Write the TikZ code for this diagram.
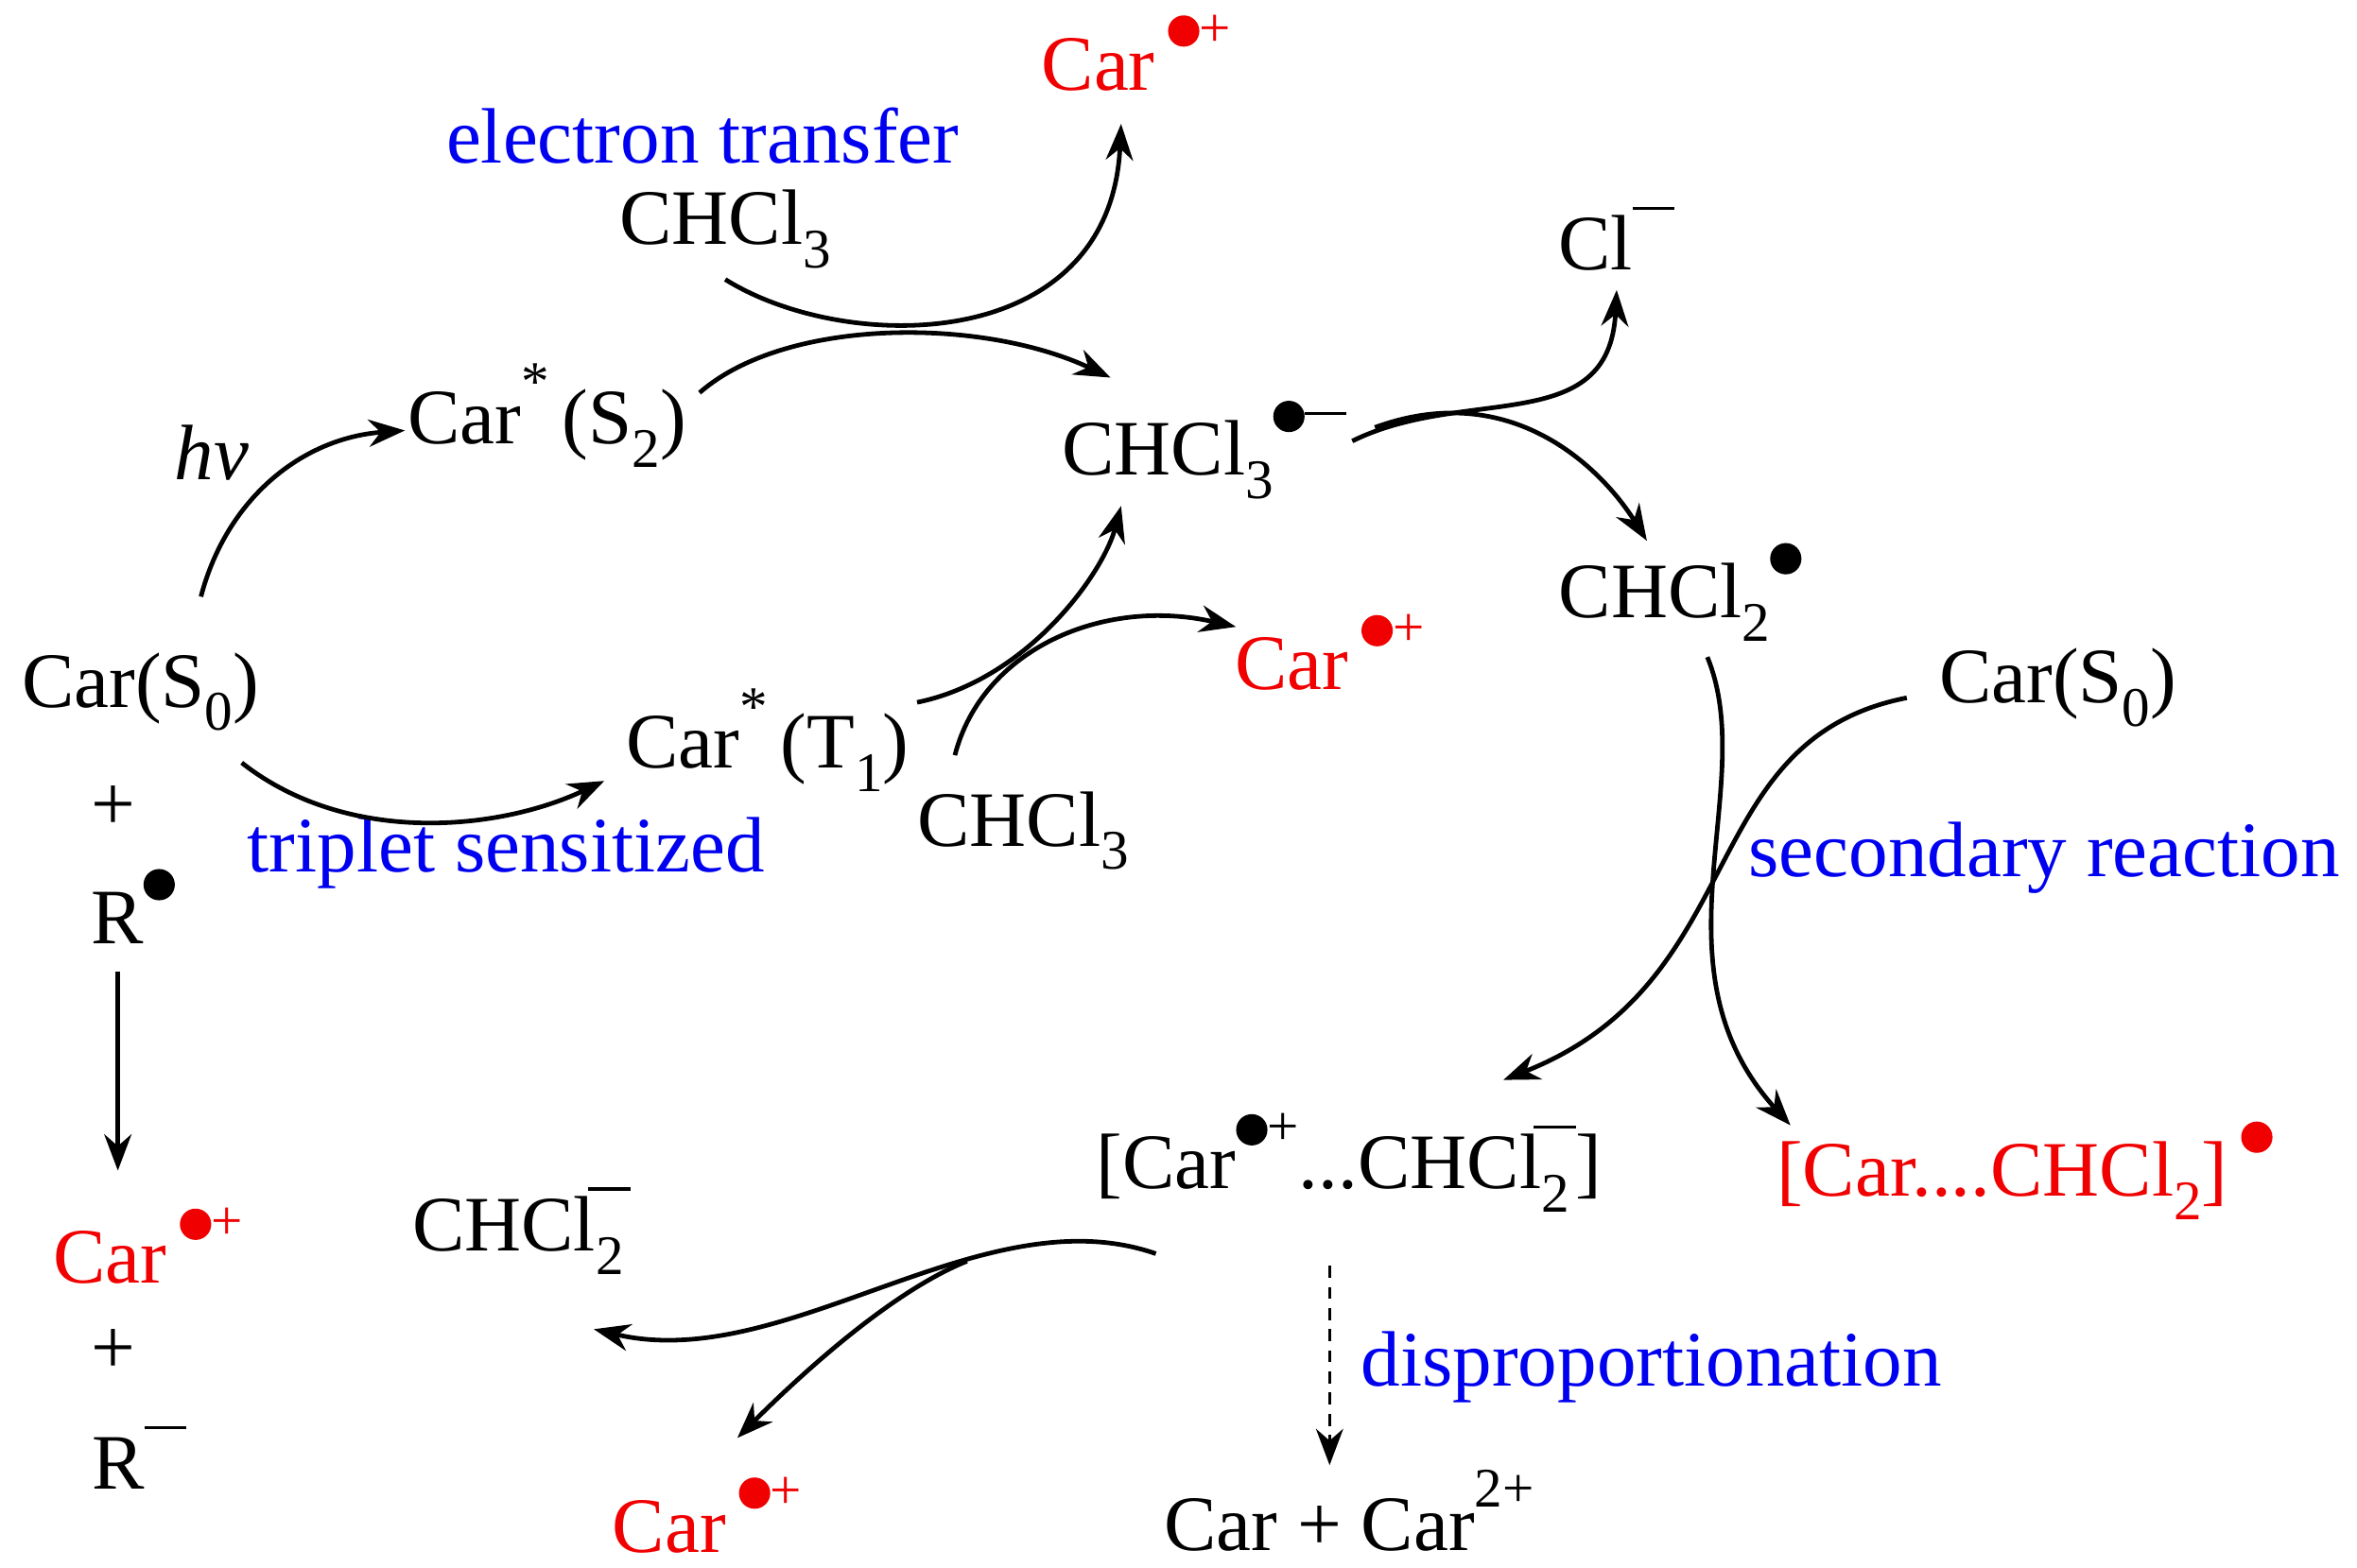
\documentclass[tikz,border=0pt]{standalone}
\usepackage{fontspec}
\setmainfont{Liberation Serif}
\usetikzlibrary{arrows.meta}
\newcommand\bdot{\tikz\fill (0,0) circle (0.28em);}
\newcommand\sps[1]{\raisebox{0.55em}{\fontsize{37}{40}\selectfont #1}}
\newcommand\sbs[1]{\raisebox{-0.3em}{\fontsize{37}{40}\selectfont #1}}
\newcommand\mn{\rule[0.3em]{0.75em}{0.06em}}
\begin{document}
\begin{tikzpicture}[x=1pt,y=-1pt,
  every node/.style={font=\fontsize{52}{55}\selectfont,inner sep=0pt},
  red/.style={text={rgb,255:red,240;green,0;blue,0}},
  lab/.style={text={rgb,255:red,0;green,0;blue,240}},
  arr/.style={line width=3pt,-{Stealth[length=24pt,width=18pt]}}]
\useasboundingbox (0,0) rectangle (1560,1038);
\node[red] (cta) at (752,35) {Car\,\sps{\bdot+}};
\node[lab] (et) at (465,90) {electron transfer};
\node (c3a) at (480,152) {CHCl\sbs{3}};
\node (cl) at (1070,158) {Cl\sps{\mn}};
\node (s2) at (362,275) {Car\sps{*}\,(S\sbs{2})};
\node at (140,300) {\itshape hv};
\node (rad) at (797,298) {CHCl\sbs{3}\sps{\bdot\mn}};
\node (c2) at (1112,392) {CHCl\sbs{2}\sps{\bdot}};
\node (s0) at (93,458) {Car(S\sbs{0})};
\node[red] (ctm) at (880,432) {Car\,\sps{\bdot+}};
\node (t1) at (508,490) {Car\sps{*}\,(T\sbs{1})};
\node (s0r) at (1362,455) {Car(S\sbs{0})};
\node at (75,535) {+};
\node (r) at (88,600) {R\sps{\bdot}};
\node[lab] at (335,565) {triplet sensitized};
\node (c3b) at (677,550) {CHCl\sbs{3}};
\node[lab] at (1353,568) {secondary reaction};
\node (pair) at (893,770) {[Car\sps{\bdot+}...CHCl\sbs{2}\hspace{-0.45em}\sps{\mn}]};
\node[red] (pr) at (1340,775) {[Car....CHCl\sbs{2}]\,\sps{\bdot}};
\node[red] (ctl) at (98,825) {Car\,\sps{\bdot+}};
\node at (75,895) {+};
\node at (92,965) {R\sps{\mn}};
\node (c2m) at (345,815) {CHCl\sbs{2}\hspace{-0.45em}\sps{\mn}};
\node[lab] at (1093,905) {disproportionation};
\node (dis) at (893,1000) {Car + Car\sps{2+}};
\node[red] (ctb) at (468,1003) {Car\,\sps{\bdot+}};
\draw[arr] (133,395) .. controls (150,330) and (200,290) .. (268,285);
\draw[arr] (160,505) .. controls (230,560) and (330,550) .. (400,517);
\draw[arr] (463,260) .. controls (520,210) and (650,210) .. (735,250);
\draw[arr] (480,185) .. controls (560,235) and (735,235) .. (742,82);
\draw[arr] (607,465) .. controls (680,450) and (730,380) .. (742,335);
\draw[arr] (632,500) .. controls (650,430) and (730,395) .. (818,415);
\draw[arr] (895,292) .. controls (970,255) and (1065,290) .. (1070,192);
\draw[arr] (910,283) .. controls (1000,250) and (1060,310) .. (1090,358);
\draw[arr] (1130,435) .. controls (1165,520) and (1090,640) .. (1185,745);
\draw[arr] (1262,462) .. controls (1120,490) and (1160,650) .. (995,715);
\draw[arr] (765,830) .. controls (650,790) and (520,910) .. (393,880);
\draw[arr] (640,835) .. controls (590,855) and (530,910) .. (488,952);
\draw[arr] (78,643) -- (78,775);
\draw[arr,line width=2.2pt,dash pattern=on 8pt off 6pt] (880,838) -- (880,970);
\end{tikzpicture}
\end{document}
